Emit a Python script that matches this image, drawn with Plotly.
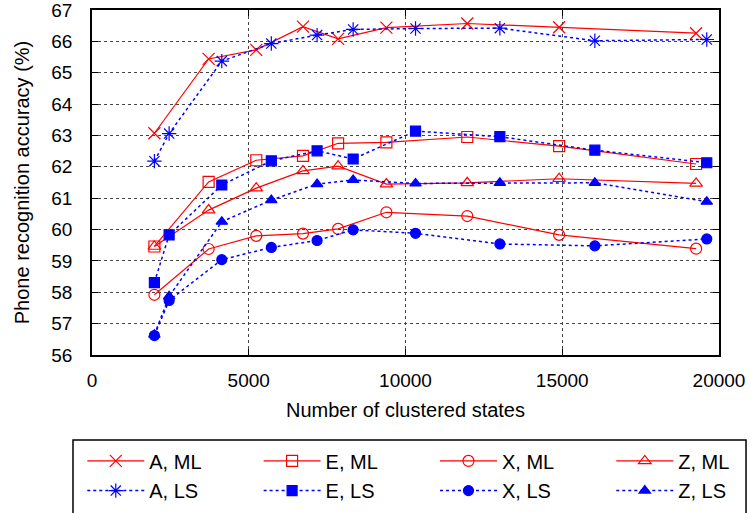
import plotly.graph_objects as go

# Data
ml_states = [1990, 3720, 5240, 6730, 7850, 9390, 11970, 14900, 19270]
ls_states = [1990, 2460, 4140, 5720, 7180, 8330, 10320, 13010, 16040, 19610]

a_ml = [63.07, 65.44, 65.73, 66.47, 66.08, 66.44, 66.57, 66.45, 66.26]
e_ml = [59.46, 61.52, 62.21, 62.35, 62.75, 62.78, 62.95, 62.66, 62.09]
x_ml = [57.92, 59.38, 59.80, 59.87, 60.02, 60.55, 60.43, 59.83, 59.39]
z_ml = [59.46, 60.62, 61.32, 61.87, 62.02, 61.45, 61.49, 61.62, 61.47]

a_ls = [62.18, 63.06, 65.37, 65.93, 66.20, 66.38, 66.41, 66.42, 66.02, 66.06]
e_ls = [58.31, 59.83, 61.42, 62.19, 62.51, 62.25, 63.14, 62.96, 62.53, 62.13]
x_ls = [56.62, 57.74, 59.04, 59.43, 59.65, 59.99, 59.88, 59.54, 59.48, 59.70]
z_ls = [56.65, 57.87, 60.25, 60.94, 61.45, 61.58, 61.47, 61.49, 61.49, 60.89]

x_ticks = [0, 5000, 10000, 15000, 20000]
y_ticks = list(range(56, 68))

RED = "#ff0000"
BLUE = "#0000ff"
FONT = "Liberation Sans, Arial, sans-serif"

fig = go.Figure()

ml_series = [("A, ML", a_ml, "x-thin-open", 12),
             ("E, ML", e_ml, "square-open", 11),
             ("X, ML", x_ml, "circle-open", 11),
             ("Z, ML", z_ml, "triangle-up-open", 11)]
ls_series = [("A, LS", a_ls, "asterisk-open", 12),
             ("E, LS", e_ls, "square", 10),
             ("X, LS", x_ls, "circle", 10),
             ("Z, LS", z_ls, "triangle-up", 10)]

# legend layout (one legend per entry so the grid matches the reference)
col_x = [-0.0155, 0.2657, 0.5470, 0.8282]
row_y = [-0.307, -0.393]

legend_layouts = {}
k = 0
for row, (series, color, dash, lw) in enumerate([(ml_series, RED, "solid", 1.2),
                                                 (ls_series, BLUE, "dot", 1.5)]):
    for col, (name, ys, sym, sz) in enumerate(series):
        k += 1
        lname = "legend" if k == 1 else f"legend{k}"
        fig.add_trace(go.Scatter(
            x=ml_states if row == 0 else ls_states, y=ys, name=name,
            mode="lines+markers",
            line=dict(color=color, width=lw, dash=dash),
            marker=dict(symbol=sym, size=sz, color=color, line=dict(color=color, width=1.2)),
            legend=lname))
        legend_layouts[lname] = dict(
            orientation="h", xanchor="left", yanchor="middle",
            x=col_x[col], y=row_y[row],
            bgcolor="rgba(0,0,0,0)", borderwidth=0, itemwidth=57,
            font=dict(family=FONT, size=20, color="black"),
            itemclick=False, itemdoubleclick=False)

axis_common = dict(
    showline=True, linecolor="black", linewidth=1.5, mirror="ticks",
    ticks="inside", ticklen=6, tickcolor="black", tickwidth=1,
    showgrid=True, gridcolor="#444444", griddash="dot", gridwidth=1,
    zeroline=False, automargin=False, ticklabeloverflow="allow",
    tickfont=dict(family=FONT, size=19, color="black"),
)

fig.update_xaxes(
    range=[0, 20000], tickvals=x_ticks, ticktext=[str(v) for v in x_ticks],
    title=dict(text="Number of clustered states", font=dict(family=FONT, size=20, color="black"), standoff=13),
    ticklabelstandoff=7, **axis_common)
fig.update_yaxes(
    range=[56, 67], tickvals=y_ticks, ticktext=[str(v) for v in y_ticks],
    title=dict(text="Phone recognition accuracy (%)", font=dict(family=FONT, size=20, color="black"), standoff=16),
    ticklabelstandoff=14, **axis_common)

fig.update_layout(
    width=751, height=513,
    margin=dict(l=92, r=32, t=10, b=158, autoexpand=False),
    paper_bgcolor="white", plot_bgcolor="white",
    font=dict(family=FONT, size=19, color="black"),
    showlegend=True,
    shapes=[dict(type="rect", xref="paper", yref="paper",
                 x0=-0.0303, x1=1.0431, y0=-0.2464, y1=-0.5,
                 line=dict(color="black", width=1.5), fillcolor="rgba(0,0,0,0)",
                 layer="below")],
    **legend_layouts,
)

fig.write_html("out.html", config={"displayModeBar": False},
               post_script="document.body.style.margin='0';")
